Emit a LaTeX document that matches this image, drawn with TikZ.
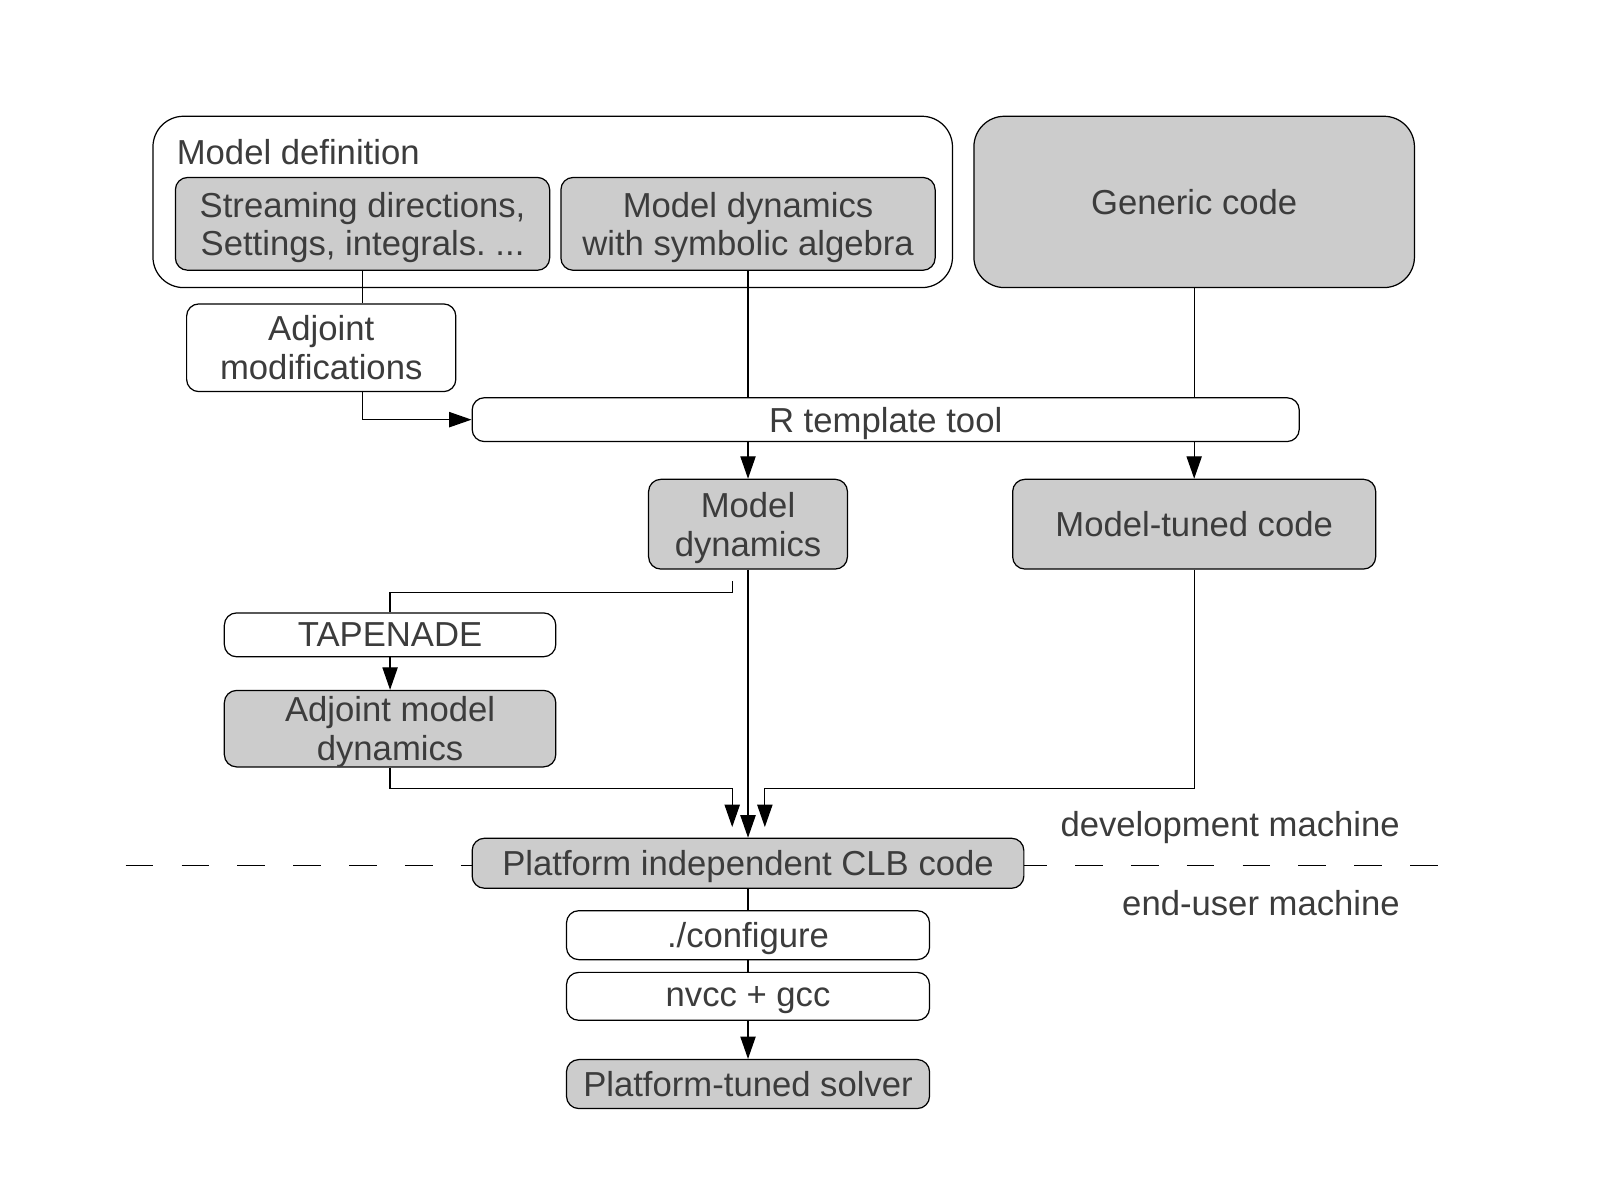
\documentclass[tikz,border=0pt]{standalone}
\usepackage{fontspec}
\setmainfont{Liberation Sans}
\usetikzlibrary{arrows.meta}
\definecolor{txt}{HTML}{3C3C3C}
\definecolor{boxgray}{HTML}{CCCCCC}
\frenchspacing
\tikzset{
  lbl/.style={text=txt, font=\fontsize{17}{19}\selectfont, align=center, inner sep=0pt},
  wbox/.style={lbl, text depth=0pt, draw=black, line width=0.6pt, fill=white, rounded corners=6pt},
  gbox/.style={wbox, fill=boxgray},
  conn/.style={draw=black, line width=0.6pt},
  arr/.style={conn, -{Triangle[length=11pt,width=7.5pt]}},
}
\begin{document}
\begin{tikzpicture}[x=0.5pt,y=-0.5pt]
\useasboundingbox (0,0) rectangle (1567,1169);
% dashed separator
\draw[line width=0.6pt, dash pattern=on 13.58pt off 13.8pt] (123.3,849) -- (1410,849);
% nodes
\node[wbox, rounded corners=15pt, minimum width=392pt, minimum height=84pt] (mdef) at (542,198) {};
\node[lbl, anchor=west] (mdeft) at (173,149) {Model definition};
\node[gbox, minimum width=183.5pt, minimum height=45.5pt] (stream) at (355.5,219.5) {Streaming directions,\\Settings, integrals.\ ...};
\node[gbox, minimum width=183.5pt, minimum height=45.5pt] (symb) at (733.5,219.5) {Model dynamics\\with symbolic algebra};
\node[gbox, rounded corners=15pt, minimum width=216pt, minimum height=84pt] (generic) at (1171,198) {Generic code};
\node[wbox, minimum width=132pt, minimum height=43pt] (adjmod) at (315,341) {Adjoint\\modifications};
\node[wbox, minimum width=405.5pt, minimum height=21.5pt] (rtool) at (868.5,411.5) {R template tool};
\node[gbox, minimum width=97.5pt, minimum height=44pt] (mdyn) at (733.5,514) {Model\\dynamics};
\node[gbox, minimum width=178pt, minimum height=44pt] (mtuned) at (1171,514) {Model-tuned code};
\node[wbox, minimum width=162.5pt, minimum height=21.5pt] (tap) at (382.5,622.5) {TAPENADE};
\node[gbox, minimum width=162.5pt, minimum height=37.5pt] (adjdyn) at (382.5,714.5) {Adjoint model\\dynamics};
\node[gbox, minimum width=270.5pt, minimum height=24.5pt] (plat) at (733.5,846.5) {Platform independent CLB code};
\node[wbox, minimum width=178pt, minimum height=24pt] (conf) at (733.5,917) {./configure};
\node[wbox, minimum width=178pt, minimum height=23.5pt] (nvcc) at (733.5,977) {nvcc + gcc};
\node[gbox, minimum width=178pt, minimum height=24pt] (solver) at (733.5,1063) {Platform-tuned solver};
\node[lbl, anchor=east] (dev) at (1373,811) {development machine};
\node[lbl, anchor=east] (eu) at (1373,886) {end-user machine};
% helper coordinates
\coordinate (b1) at (718,570);
\coordinate (b2) at (718,581);
\coordinate (l1) at (718,773);
\coordinate (l2) at (718,811);
\coordinate (r1) at (750,773);
\coordinate (r2) at (750,811);
% connectors
\draw[conn] (stream.south) -- (stream.south |- adjmod.north);
\draw[arr] (stream.south |- adjmod.south) |- (rtool.west);
\draw[conn] (symb.south) -- (symb.south |- rtool.north);
\draw[conn] (generic.south) -- (generic.south |- rtool.north);
\draw[arr] (mdyn.north |- rtool.south) -- (mdyn.north);
\draw[arr] (mtuned.north |- rtool.south) -- (mtuned.north);
\draw[conn] (b1) -- (b2) -| (tap.north);
\draw[arr] (tap.south) -- (adjdyn.north);
\draw[arr] (mdyn.south) -- (plat.north);
\draw[arr] (adjdyn.south) |- (l1) -- (l2);
\draw[arr] (mtuned.south) |- (r1) -- (r2);
\draw[conn] (plat.south) -- (conf.north);
\draw[conn] (conf.south) -- (nvcc.north);
\draw[arr] (nvcc.south) -- (solver.north);
\end{tikzpicture}
\end{document}
